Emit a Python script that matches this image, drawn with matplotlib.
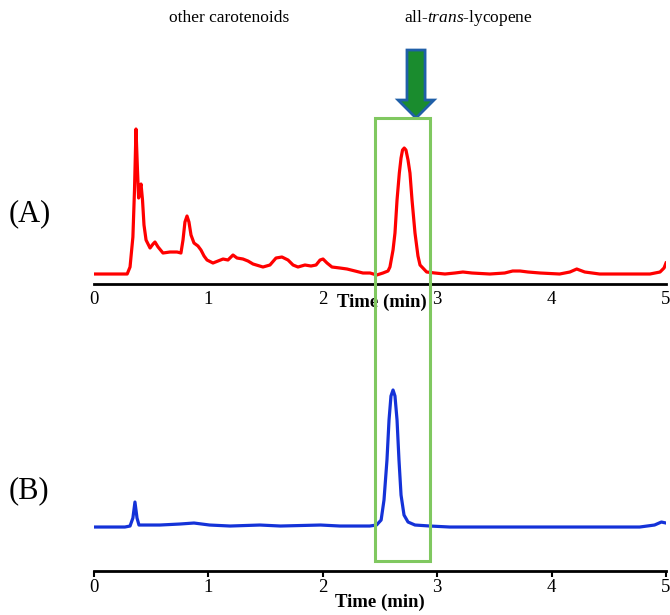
import matplotlib
matplotlib.use("Agg")
from matplotlib import pyplot as plt
from matplotlib.patches import Rectangle, Polygon

plt.rcParams['font.family'] = ['Liberation Serif', 'DejaVu Serif']
plt.rcParams['mathtext.fontset'] = 'custom'
plt.rcParams['mathtext.rm'] = 'Liberation Serif'
plt.rcParams['mathtext.it'] = 'Liberation Serif:italic'

# (A) sample chromatogram, time in min, signal in arbitrary units
time_a = [0.01, 0.29, 0.315, 0.34, 0.354, 0.367, 0.38, 0.39, 0.402, 0.411, 0.424, 0.437,
          0.455, 0.49, 0.516, 0.533, 0.56, 0.603, 0.664, 0.726, 0.76, 0.778, 0.795, 0.813,
          0.83, 0.848, 0.874, 0.909, 0.935, 0.962, 0.988, 1.04, 1.084, 1.128, 1.171, 1.215,
          1.25, 1.302, 1.346, 1.39, 1.477, 1.538, 1.591, 1.643, 1.696, 1.74, 1.783, 1.844,
          1.897, 1.941, 1.976, 2.002, 2.037, 2.08, 2.15, 2.212, 2.282, 2.351, 2.413, 2.471,
          2.526, 2.57, 2.587, 2.614, 2.631, 2.649, 2.669, 2.684, 2.697, 2.712, 2.727, 2.745,
          2.762, 2.78, 2.806, 2.832, 2.85, 2.908, 2.98, 3.068, 3.155, 3.225, 3.304, 3.46,
          3.59, 3.66, 3.724, 3.794, 3.9, 4.07, 4.16, 4.22, 4.29, 4.42, 4.685, 4.86, 4.948,
          4.983, 5.0]
signal_a = [0, 0, 7, 37, 84, 145, 104, 76, 86, 90, 74, 49,
            34, 26, 30, 32, 27, 21, 22, 22, 21, 34, 52, 58,
            52, 39, 31, 28, 24, 18, 14, 11, 13, 15, 14, 19,
            16, 15, 13, 10, 7, 9, 16, 17, 14, 9, 7, 9,
            8, 9, 14, 15, 11, 7, 6, 5, 3, 1, 1, -1,
            1, 3, 7, 24, 41, 74, 101, 116, 124, 126, 124, 114,
            101, 74, 41, 18, 9, 2, 1, 0, 1, 2, 1, 0,
            1, 3, 3, 2, 1, 0, 2, 5, 2, 0, 0, 0, 2,
            6, 11]

# (B) lycopene standard
time_b = [0.0, 0.27, 0.315, 0.34, 0.358, 0.376, 0.393, 0.577, 0.75, 0.874, 1.01, 1.19,
          1.45, 1.63, 1.98, 2.15, 2.41, 2.47, 2.51, 2.535, 2.561, 2.579, 2.596, 2.614,
          2.631, 2.649, 2.666, 2.684, 2.71, 2.745, 2.806, 2.937, 3.11, 3.55, 3.99, 4.42,
          4.77, 4.9, 4.96, 5.0]
signal_b = [-1, -1, 0, 8, 24, 8, 1, 1, 2, 3, 1, 0,
            1, 0, 1, 0, 0, 1, 6, 26, 66, 106, 130, 136,
            130, 106, 66, 31, 11, 4, 1, 0, -1, -1, -1, -1,
            -1, 1, 4, 3]

ticks = [0, 1, 2, 3, 4, 5]
window = (2.456, 2.937)   # retention window of all-trans-lycopene
arrow_x = 2.815

fig = plt.figure(figsize=(6.7, 6.15), dpi=100)
ax_a = fig.add_axes([0.1403, 0.5382, 0.8537, 0.3967])
ax_b = fig.add_axes([0.1403, 0.0715, 0.8537, 0.3106])

ax_a.plot(time_a, signal_a, color='#ff0000', lw=2.3)
ax_b.plot(time_b, signal_b, color='#1432d8', lw=2.3)
ax_a.set_ylim(-10, 234)
ax_b.set_ylim(-45, 146)

for ax in (ax_a, ax_b):
    ax.set_xlim(0, 5)
    ax.set_facecolor('none')
    for s in ('left', 'right', 'top'):
        ax.spines[s].set_visible(False)
    ax.spines['bottom'].set_linewidth(2)
    ax.set_yticks([])
    ax.set_xticks(ticks)
    ax.set_xticklabels([str(t) for t in ticks], fontsize=13.5)

ax_a.tick_params(axis='x', length=0, pad=5)
ax_b.tick_params(axis='x', length=4, width=1.5, pad=2)

ax_a.annotate('Time (min)', xy=(2.52, 0), xycoords=('data', 'axes fraction'),
              xytext=(0, -13), textcoords='offset points', ha='center', va='center',
              fontsize=13.5, fontweight='bold')
ax_b.set_xlabel('Time (min)', fontsize=13.5, fontweight='bold', labelpad=-2)

fig.text(9 / 670, 1 - 214 / 615, '(A)', fontsize=22, va='center')
fig.text(9 / 670, 1 - 491 / 615, '(B)', fontsize=22, va='center')

ax_a.text(1.18, 256, 'other carotenoids', fontsize=12.5, ha='center', va='center')
ax_a.text(3.27, 256, 'all-$\\it{trans}$-lycopene', fontsize=12.5, ha='center', va='center')

# down arrow pointing at the lycopene window
shaft, head = 0.079, 0.157
arrow = Polygon([(arrow_x - shaft, 224), (arrow_x + shaft, 224), (arrow_x + shaft, 174),
                 (arrow_x + head, 174), (arrow_x, 156), (arrow_x - head, 174),
                 (arrow_x - shaft, 174)],
                closed=True, facecolor='#1a8c2e', edgecolor='#1f5fa8', lw=2,
                clip_on=False)
ax_a.add_patch(arrow)

# box spanning both chromatograms
fig.canvas.draw()
x0, y_top = ax_a.transData.transform((window[0], 156))
x1, _ = ax_a.transData.transform((window[1], 156))
_, y_bot = ax_b.transData.transform((window[0], -35))
inv = fig.transFigure.inverted()
(fx0, fy0), (fx1, fy1) = inv.transform([(x0, y_bot), (x1, y_top)])
box = Rectangle((fx0, fy0), fx1 - fx0, fy1 - fy0, transform=fig.transFigure,
                fill=False, edgecolor='#80c860', lw=2.2, zorder=5)
fig.add_artist(box)

fig.savefig('out.png', dpi=100)
